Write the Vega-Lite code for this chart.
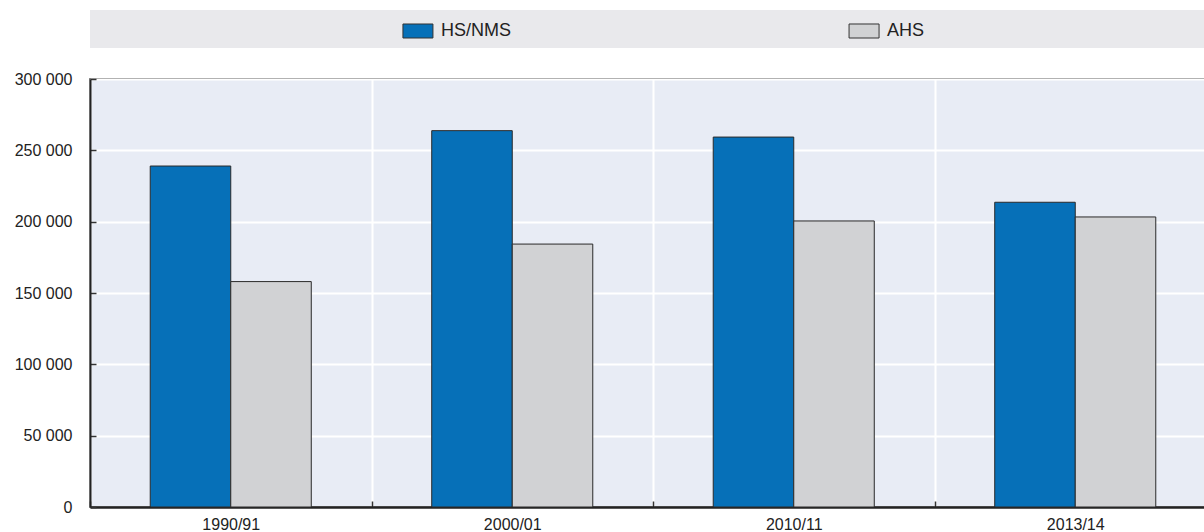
{
  "$schema": "https://vega.github.io/schema/vega-lite/v6.json",
  "padding": {"left": 13, "top": 10, "right": 0, "bottom": 0},
  "background": "white",
  "config": {
    "font": "Liberation Sans, Arial, sans-serif",
    "view": {"stroke": null}
  },
  "datasets": {
    "enrolment": [
      {"year": "1990/91", "series": "HS/NMS", "value": 239000},
      {"year": "1990/91", "series": "AHS", "value": 158000},
      {"year": "2000/01", "series": "HS/NMS", "value": 263800},
      {"year": "2000/01", "series": "AHS", "value": 184300},
      {"year": "2010/11", "series": "HS/NMS", "value": 259300},
      {"year": "2010/11", "series": "AHS", "value": 200500},
      {"year": "2013/14", "series": "HS/NMS", "value": 213600},
      {"year": "2013/14", "series": "AHS", "value": 203300}
    ],
    "series": [
      {"series": "HS/NMS"},
      {"series": "AHS"}
    ]
  },
  "spacing": 31,
  "bounds": "flush",
  "resolve": {"scale": {"x": "independent"}},
  "vconcat": [
    {
      "width": 1126,
      "height": 38,
      "view": {"fill": "#e9e9ec", "stroke": null},
      "data": {"name": "series"},
      "layer": [
        {
          "mark": {"type": "point", "shape": "M-1,-0.467H1V0.467H-1Z", "size": 900, "filled": true, "stroke": "#333333", "strokeWidth": 1, "opacity": 1, "xOffset": -12, "yOffset": 2},
          "encoding": {
            "x": {"field": "series", "type": "nominal", "scale": {"type": "point", "domain": ["HS/NMS", "AHS"], "padding": 0.762}, "axis": null},
            "color": {"field": "series", "type": "nominal", "scale": {"domain": ["HS/NMS", "AHS"], "range": ["#0670b8", "#d1d2d4"]}, "legend": null}
          }
        },
        {
          "mark": {"type": "text", "align": "left", "baseline": "middle", "dx": 11, "dy": 2, "fontSize": 18, "color": "#222222"},
          "encoding": {
            "x": {"field": "series", "type": "nominal", "scale": {"type": "point", "domain": ["HS/NMS", "AHS"], "padding": 0.762}, "axis": null},
            "text": {"field": "series"}
          }
        }
      ]
    },
    {
      "width": 1126,
      "height": 428,
      "data": {"name": "enrolment"},
      "view": {"fill": "#e8ecf5", "stroke": "#333333", "strokeWidth": 1.5},
      "mark": {"type": "bar", "stroke": "#2a2a2a", "strokeWidth": 1},
      "encoding": {
        "x": {
          "field": "year", "type": "nominal",
          "sort": ["1990/91", "2000/01", "2010/11", "2013/14"],
          "scale": {"paddingInner": 0, "paddingOuter": 0},
          "axis": {
            "title": null, "labelAngle": 0, "tickBand": "extent",
            "grid": true, "gridColor": "white", "gridWidth": 2,
            "ticks": true, "tickSize": -6, "tickColor": "#333333", "tickWidth": 1.5,
            "domainColor": "#222222", "domainWidth": 2.5,
            "labelFontSize": 16, "labelPadding": 15, "labelColor": "#222222"
          }
        },
        "xOffset": {"field": "series", "type": "nominal", "sort": ["HS/NMS", "AHS"], "scale": {"paddingInner": 0, "paddingOuter": 0.748}},
        "y": {
          "field": "value", "type": "quantitative",
          "scale": {"domain": [0, 300000], "nice": false},
          "axis": {
            "title": null, "values": [0, 50000, 100000, 150000, 200000, 250000, 300000],
            "labelExpr": "replace(format(datum.value, ','), ',', ' ')",
            "grid": true, "gridColor": "white", "gridWidth": 2,
            "ticks": true, "tickSize": -6, "tickColor": "#333333", "tickWidth": 1.5,
            "domainColor": "#222222", "domainWidth": 2,
            "labelFontSize": 16, "labelPadding": 24, "labelColor": "#222222"
          }
        },
        "color": {"field": "series", "type": "nominal", "scale": {"domain": ["HS/NMS", "AHS"], "range": ["#0670b8", "#d1d2d4"]}, "legend": null}
      }
    }
  ]
}
